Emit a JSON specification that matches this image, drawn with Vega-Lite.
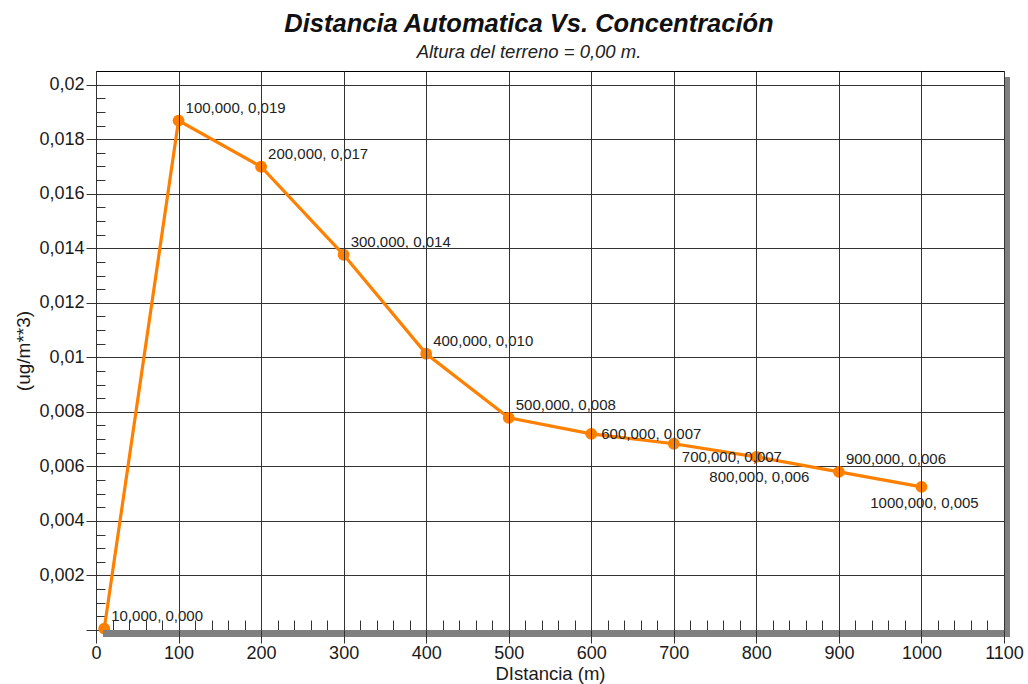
{
  "$schema": "https://vega.github.io/schema/vega-lite/v6.json",
  "width": 908,
  "height": 559,
  "autosize": {"type": "none"},
  "padding": {"left": 96, "top": 71, "right": 24, "bottom": 54},
  "background": "white",
  "config": {
    "view": {"stroke": "#000", "strokeWidth": 1},
    "font": "Liberation Sans"
  },
  "title": {
    "text": "Distancia Automatica Vs. Concentración",
    "subtitle": "Altura del terreno = 0,00 m.",
    "font": "Liberation Sans",
    "fontSize": 25.5,
    "fontStyle": "italic",
    "fontWeight": "bold",
    "color": "#111",
    "subtitleFont": "Liberation Sans",
    "subtitleFontSize": 18.5,
    "subtitleFontStyle": "italic",
    "subtitleColor": "#222",
    "anchor": "middle",
    "frame": "group",
    "offset": 10,
    "subtitlePadding": 5,
    "dx": -21
  },
  "data": {
    "values": [
      {"x": 10, "y": 0.00005, "label": "10,000, 0,000"},
      {"x": 100, "y": 0.01868, "label": "100,000, 0,019"},
      {"x": 200, "y": 0.01699, "label": "200,000, 0,017"},
      {"x": 300, "y": 0.01376, "label": "300,000, 0,014"},
      {"x": 400, "y": 0.01013, "label": "400,000, 0,010"},
      {"x": 500, "y": 0.00778, "label": "500,000, 0,008"},
      {"x": 600, "y": 0.00719, "label": "600,000, 0,007"},
      {"x": 700, "y": 0.00683, "label": "700,000, 0,007"},
      {"x": 800, "y": 0.00635, "label": "800,000, 0,006"},
      {"x": 900, "y": 0.0058, "label": "900,000, 0,006"},
      {"x": 1000, "y": 0.00525, "label": "1000,000, 0,005"}
    ]
  },
  "resolve": {"axis": {"x": "independent", "y": "independent"}},
  "layer": [
    {
      "data": {"values": [{}]},
      "mark": {"type": "rule", "color": "#808080", "strokeWidth": 6, "xOffset": 3, "yOffset": 6, "y2Offset": 6},
      "encoding": {
        "x": {"datum": 1100, "type": "quantitative", "scale": {"domain": [0, 1100], "nice": false, "zero": false}, "axis": null},
        "y": {"datum": 0, "type": "quantitative", "scale": {"domain": [0, 0.0205], "nice": false}, "axis": null},
        "y2": {"datum": 0.0205}
      }
    },
    {
      "mark": {"type": "line", "color": "#FF8000", "strokeWidth": 3.2},
      "encoding": {
        "x": {
          "field": "x", "type": "quantitative",
          "axis": {
            "values": [0, 100, 200, 300, 400, 500, 600, 700, 800, 900, 1000, 1100],
            "format": "d",
            "labelFlush": false,
            "grid": true, "gridColor": "#333", "gridOpacity": 1, "gridWidth": 1,
            "domain": false, "tickSize": 13, "tickColor": "#333", "tickWidth": 1,
            "labelFont": "Liberation Sans", "labelFontSize": 18, "labelColor": "#1a1a1a", "labelPadding": 1,
            "title": "DIstancia (m)", "titleFont": "Liberation Sans", "titleFontSize": 18.5, "titleFontWeight": "normal", "titleColor": "#1a1a1a", "titlePadding": 2,
            "zindex": 1
          }
        },
        "y": {
          "field": "y", "type": "quantitative",
          "axis": {
            "values": [0, 0.002, 0.004, 0.006, 0.008, 0.01, 0.012, 0.014, 0.016, 0.018, 0.02],
            "labelExpr": "datum.value == 0 ? '' : replace(format(datum.value, '.3~f'), '.', ',')",
            "labelFlush": false,
            "grid": true, "gridColor": "#333", "gridOpacity": 1, "gridWidth": 1,
            "domain": false, "tickSize": 10, "tickColor": "#333", "tickWidth": 1,
            "labelFont": "Liberation Sans", "labelFontSize": 18, "labelColor": "#1a1a1a", "labelPadding": 2,
            "title": "(ug/m**3)", "titleFont": "Liberation Sans", "titleFontSize": 19, "titleFontWeight": "normal", "titleColor": "#1a1a1a", "titlePadding": 5
          }
        }
      }
    },
    {
      "mark": {"type": "circle", "color": "#FF8000", "size": 140, "opacity": 1},
      "encoding": {
        "x": {
          "field": "x", "type": "quantitative",
          "axis": {
            "orient": "bottom",
            "values": [20,40,60,80,120,140,160,180,220,240,260,280,320,340,360,380,420,440,460,480,520,540,560,580,620,640,660,680,720,740,760,780,820,840,860,880,920,940,960,980,1020,1040,1060,1080],
            "grid": false, "domain": false, "labels": false, "title": null,
            "tickSize": -10, "tickColor": "#333", "tickWidth": 1
          }
        },
        "y": {
          "field": "y", "type": "quantitative",
          "axis": {
            "orient": "left",
            "values": [0.0005,0.001,0.0015,0.0025,0.003,0.0035,0.0045,0.005,0.0055,0.0065,0.007,0.0075,0.0085,0.009,0.0095,0.0105,0.011,0.0115,0.0125,0.013,0.0135,0.0145,0.015,0.0155,0.0165,0.017,0.0175,0.0185,0.019,0.0195],
            "grid": false, "domain": false, "labels": false, "title": null,
            "tickSize": -9, "tickColor": "#333", "tickWidth": 1
          }
        }
      }
    },
    {
      "data": {"values": [{}]},
      "mark": {"type": "rule", "color": "#808080", "strokeWidth": 7, "yOffset": 3.5, "xOffset": 7, "x2Offset": 6},
      "encoding": {
        "x": {"datum": 0, "type": "quantitative", "axis": null},
        "x2": {"datum": 1100},
        "y": {"datum": 0, "type": "quantitative", "axis": null}
      }
    },
    {
      "transform": [{"filter": "datum.x != 600 && datum.x != 700 && datum.x != 800 && datum.x != 1000"}],
      "mark": {"type": "text", "align": "left", "baseline": "middle", "dx": 7, "dy": -13, "fontSize": 15, "font": "Liberation Sans", "color": "#222"},
      "encoding": {
        "x": {"field": "x", "type": "quantitative", "axis": null},
        "y": {"field": "y", "type": "quantitative", "axis": null},
        "text": {"field": "label"}
      }
    },
    {
      "transform": [{"filter": "datum.x == 600"}],
      "mark": {"type": "text", "align": "left", "baseline": "middle", "dx": 10, "dy": 0, "fontSize": 15, "font": "Liberation Sans", "color": "#222"},
      "encoding": {
        "x": {"field": "x", "type": "quantitative", "axis": null},
        "y": {"field": "y", "type": "quantitative", "axis": null},
        "text": {"field": "label"}
      }
    },
    {
      "transform": [{"filter": "datum.x == 700"}],
      "mark": {"type": "text", "align": "left", "baseline": "middle", "dx": 8, "dy": 13, "fontSize": 15, "font": "Liberation Sans", "color": "#222"},
      "encoding": {
        "x": {"field": "x", "type": "quantitative", "axis": null},
        "y": {"field": "y", "type": "quantitative", "axis": null},
        "text": {"field": "label"}
      }
    },
    {
      "transform": [{"filter": "datum.x == 800"}],
      "mark": {"type": "text", "align": "center", "baseline": "middle", "dx": 3, "dy": 20, "fontSize": 15, "font": "Liberation Sans", "color": "#222"},
      "encoding": {
        "x": {"field": "x", "type": "quantitative", "axis": null},
        "y": {"field": "y", "type": "quantitative", "axis": null},
        "text": {"field": "label"}
      }
    },
    {
      "transform": [{"filter": "datum.x == 1000"}],
      "mark": {"type": "text", "align": "center", "baseline": "middle", "dx": 3, "dy": 16, "fontSize": 15, "font": "Liberation Sans", "color": "#222"},
      "encoding": {
        "x": {"field": "x", "type": "quantitative", "axis": null},
        "y": {"field": "y", "type": "quantitative", "axis": null},
        "text": {"field": "label"}
      }
    }
  ]
}
